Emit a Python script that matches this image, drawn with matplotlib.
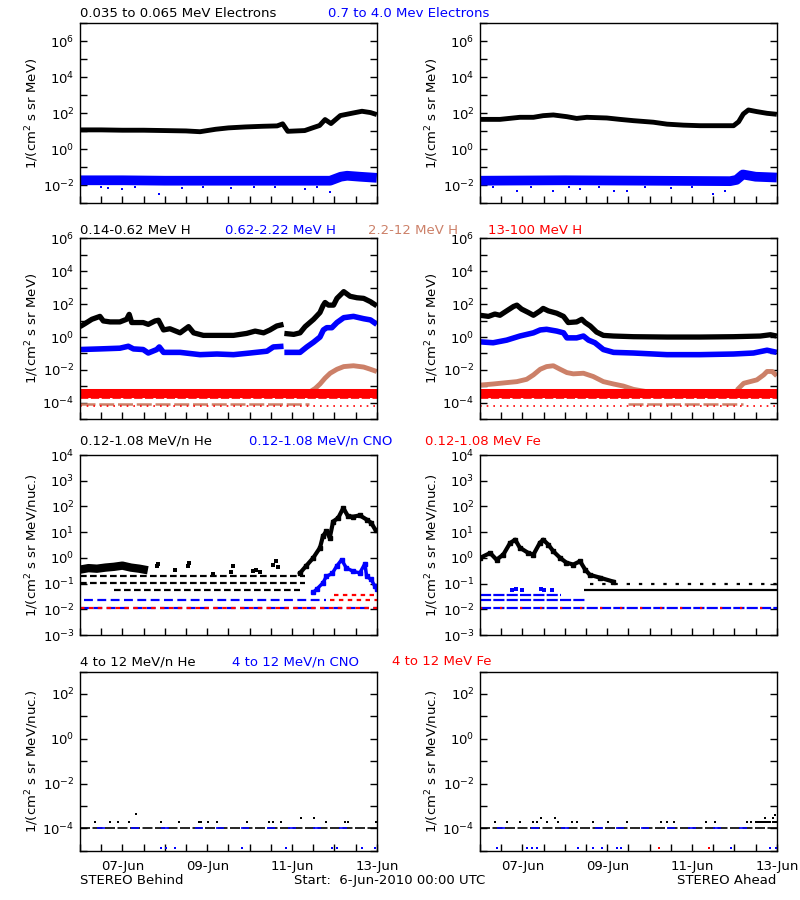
import numpy as np
import matplotlib
matplotlib.use('Agg')
import matplotlib.pyplot as plt

plt.rcParams['font.family'] = 'DejaVu Sans'
plt.rcParams['font.size'] = 9
plt.rcParams['mathtext.fontset'] = 'dejavusans'

BLUE = '#0000ff'
RED = '#ff0000'
SIENNA = '#cc8068'
nan = np.nan

# time axis: days since 6-Jun-2010 00:00
day_ticks = [1, 3, 5, 7]
day_labels = ['07-Jun', '09-Jun', '11-Jun', '13-Jun']

# ---------------- electrons ----------------
eb_lo_t = [0, 0.5, 1.0, 1.5, 2.0, 2.5, 2.83, 3.2, 3.5, 3.9, 4.3, 4.65, 4.78, 4.9, 5.3, 5.5, 5.65, 5.78, 5.92, 6.14, 6.45, 6.65, 6.85, 7.0]
eb_lo = [12, 12, 11.5, 11.5, 11, 10.5, 9.5, 13, 15.5, 17.5, 19, 20, 26, 10, 11, 16, 21, 45, 27, 75, 105, 130, 110, 85]
eb_hi_t = [0, 1, 2, 3, 4, 5, 5.9, 6.15, 6.3, 6.6, 7.0]
eb_hi = [0.019, 0.019, 0.018, 0.018, 0.018, 0.018, 0.018, 0.03, 0.034, 0.03, 0.026]
eb_hi_out_t = [0.5, 0.67, 0.98, 1.3, 1.87, 2.4, 2.9, 3.55, 4.1, 4.6, 5.3, 5.6, 5.9]
eb_hi_out = [0.008, 0.007, 0.0065, 0.008, 0.0032, 0.007, 0.008, 0.0075, 0.008, 0.0078, 0.0065, 0.008, 0.0045]

ea_lo_t = [0, 0.47, 0.94, 1.26, 1.49, 1.73, 2.05, 2.28, 2.52, 2.99, 3.3, 3.62, 4.09, 4.41, 4.8, 5.19, 5.66, 5.98, 6.1, 6.21, 6.33, 6.53, 6.77, 7.0]
ea_lo = [46, 46, 60, 60, 74, 81, 65, 52, 60, 55, 46, 39, 32, 25, 22, 20.5, 20.5, 20.5, 34, 92, 153, 124, 100, 88]
ea_hi_t = [0, 2, 4, 5.9, 6.05, 6.2, 6.5, 7.0]
ea_hi = [0.018, 0.019, 0.018, 0.017, 0.02, 0.04, 0.03, 0.027]
ea_hi_out_t = [0.3, 0.87, 1.2, 1.73, 2.1, 2.36, 2.8, 3.15, 3.46, 3.9, 4.5, 5.0, 5.5, 5.78]
ea_hi_out = [0.008, 0.005, 0.008, 0.0046, 0.008, 0.006, 0.008, 0.005, 0.0046, 0.008, 0.0075, 0.008, 0.0033, 0.0046]

# ---------------- protons ----------------
hb1_t = [0, 0.12, 0.28, 0.47, 0.55, 0.71, 0.94, 1.10, 1.16, 1.22, 1.49, 1.61, 1.77, 1.85, 1.97, 2.12, 2.36, 2.56, 2.68, 2.91, 3.23, 3.62, 3.93, 4.13, 4.33, 4.48, 4.64, 4.80, 4.81,
         4.82, 5.04, 5.19, 5.31, 5.51, 5.66, 5.73, 5.78, 5.86, 5.98, 6.06, 6.22, 6.37, 6.53, 6.69, 6.85, 7.0]
hb1 = [4.3, 6.6, 12, 18, 9.5, 8.3, 8.3, 12, 24, 7.6, 7.6, 5.9, 9.5, 10.5, 2.7, 3.2, 1.8, 4.3, 1.8, 1.26, 1.26, 1.26, 1.66, 2.3, 1.8, 2.7, 4.7, 5.9, nan,
       1.66, 1.45, 1.8, 4.3, 12, 31, 79, 126, 87, 87, 224, 575, 300, 245, 224, 141, 79]
hb2_t = [0, 0.47, 0.94, 1.14, 1.26, 1.49, 1.61, 1.81, 1.87, 1.97, 2.36, 2.83, 3.23, 3.62, 4.01, 4.41, 4.56, 4.80, 4.81,
         4.82, 5.19, 5.35, 5.51, 5.66, 5.74, 5.82, 5.94, 6.06, 6.22, 6.45, 6.69, 6.85, 7.0]
hb2 = [0.174, 0.19, 0.21, 0.275, 0.19, 0.174, 0.107, 0.174, 0.25, 0.117, 0.117, 0.085, 0.093, 0.085, 0.107, 0.138, 0.25, 0.275, nan,
       0.117, 0.117, 0.25, 0.49, 1.0, 2.7, 3.7, 3.7, 7.6, 15, 18, 13, 11, 5.9]
hb3_t = [5.43, 5.55, 5.66, 5.78, 5.9, 6.06, 6.22, 6.45, 6.69, 6.85, 7.0]
hb3 = [4.8e-4, 7.6e-4, 1.4e-3, 3.2e-3, 6.3e-3, 0.011, 0.016, 0.018, 0.015, 0.011, 0.008]
hb4_t = [0, 7.0]
hb4 = [3.8e-4, 3.8e-4]

ha1_t = [0, 0.2, 0.35, 0.47, 0.63, 0.79, 0.87, 0.98, 1.14, 1.26, 1.42, 1.49, 1.61, 1.81, 1.97, 2.08, 2.28, 2.4, 2.48, 2.6, 2.75, 2.91, 3.15, 3.62, 4.41, 5.19, 5.98, 6.61, 6.85, 7.0]
ha1 = [21, 18, 25, 21, 39, 72, 87, 50, 31, 21, 39, 55, 39, 28, 18, 7.6, 8.3, 12, 7.6, 4.7, 2.0, 1.26, 1.15, 1.05, 1.0, 1.0, 1.05, 1.15, 1.38, 1.15]
ha2_t = [0, 0.31, 0.63, 0.94, 1.26, 1.42, 1.57, 1.81, 1.97, 2.05, 2.28, 2.44, 2.56, 2.71, 2.91, 3.15, 3.62, 4.41, 5.19, 5.98, 6.45, 6.77, 7.0]
ha2 = [0.51, 0.45, 0.65, 1.15, 1.8, 2.7, 2.95, 2.3, 1.8, 0.89, 0.89, 1.15, 0.65, 0.45, 0.174, 0.117, 0.107, 0.085, 0.085, 0.093, 0.107, 0.158, 0.117]
ha3_t = [0, 0.31, 0.63, 0.87, 1.10, 1.26, 1.42, 1.57, 1.73, 1.89, 2.05, 2.2, 2.44, 2.67, 2.91, 3.15, 3.38, 3.62, 3.93, 3.94,
         6.06, 6.22, 6.37, 6.53, 6.69, 6.77, 6.89, 7.0]
ha3 = [1.2e-3, 1.4e-3, 1.7e-3, 1.95e-3, 2.7e-3, 5e-3, 0.011, 0.016, 0.018, 0.011, 6.9e-3, 5.8e-3, 6.3e-3, 4e-3, 1.95e-3, 1.4e-3, 1.05e-3, 6.6e-4, 4.8e-4, nan,
       6e-4, 1.55e-3, 1.95e-3, 2.5e-3, 5e-3, 8.1e-3, 8.1e-3, 4.4e-3]
ha4_t = [0, 7.0]
ha4 = [3.8e-4, 3.8e-4]

# one-count levels of the proton channels
h_red_lvl = [1.9e-4, 6.5e-5]
h_sienna_lvl = 9e-5
hb_sienna_span = [0, 5.4]
ha_sienna_span = [3.5, 6.2]

# ---------------- 0.12-1.08 MeV/n ions ----------------
heb_quiet_t = [0, 0.2, 0.4, 0.6, 0.8, 1.0, 1.2, 1.4, 1.6]
heb_quiet = [0.35, 0.4, 0.38, 0.42, 0.45, 0.5, 0.42, 0.38, 0.33]
heb_blob_t = [1.81, 1.85, 2.24, 2.55, 2.58, 3.14, 3.57, 3.6, 4.08, 4.16, 4.24, 4.56, 4.62, 4.67]
heb_blob = [0.47, 0.6, 0.33, 0.47, 0.65, 0.24, 0.28, 0.5, 0.3, 0.35, 0.28, 0.55, 0.75, 0.45]
heb_rise_t = [5.19, 5.34, 5.5, 5.66, 5.73, 5.81, 5.89, 5.97, 6.09, 6.21, 6.32, 6.44, 6.6, 6.76, 6.87, 6.97]
heb_rise = [0.26, 0.5, 1.0, 2.5, 7, 11, 6, 26, 36, 87, 42, 40, 45, 31, 23, 12]
cnob_t = [5.5, 5.58, 5.73, 5.81, 5.95, 6.05, 6.17, 6.28, 6.44, 6.6, 6.72, 6.76, 6.87, 6.95, 7.0]
cnob = [0.046, 0.06, 0.107, 0.19, 0.25, 0.47, 0.85, 0.41, 0.3, 0.26, 0.6, 0.19, 0.145, 0.08, 0.06]

hea_t = [0, 0.24, 0.39, 0.55, 0.71, 0.83, 0.94, 1.14, 1.26, 1.41, 1.49, 1.61, 1.73, 1.89, 2.04, 2.2, 2.36, 2.48, 2.59, 2.83, 3.14]
hea = [1.0, 1.55, 0.85, 1.35, 3.8, 5.1, 2.5, 1.55, 1.35, 3.8, 5.1, 3.3, 1.8, 1.0, 0.65, 0.55, 0.74, 0.35, 0.22, 0.17, 0.12]
cnoa_blob_t = [0.75, 0.85, 1.0, 1.45, 1.5, 1.7]
cnoa_blob = [0.055, 0.06, 0.055, 0.06, 0.055, 0.055]

# count levels: (level, start day, end day)
ionb_black_lvl = [(0.2, 0.0, 5.3), (0.107, 0.0, 5.3), (0.054, 0.8, 5.2)]
ionb_blue_lvl = [(0.024, 0.1, 5.8), (0.011, 0.0, 7.0)]
ionb_red_lvl = [(0.011, 0.0, 7.0), (0.024, 5.9, 7.0), (0.037, 6.0, 7.0)]
iona_black_lvl = [(0.055, 2.45, 7.0), (0.1, 2.6, 7.0)]
iona_blue_lvl = [(0.037, 0.0, 1.9), (0.024, 0.0, 2.5), (0.011, 0.0, 7.0)]
iona_red_lvl = [(0.011, 0.0, 7.0)]

# ---------------- 4-12 MeV/n ions ----------------
hi_lvl = 1e-4
hib_dot_t = [0.35, 0.71, 0.9, 1.15, 1.33, 1.91, 2.33, 2.8, 2.85, 3.01, 3.24, 3.93, 4.45, 4.56, 4.74, 5.21, 5.52, 5.8, 6.25, 6.31, 6.97]
hib_dot = [2e-4, 2e-4, 2e-4, 2e-4, 4.3e-4, 2e-4, 2e-4, 2e-4, 2e-4, 2e-4, 2e-4, 2e-4, 2e-4, 2e-4, 2e-4, 3e-4, 3e-4, 2e-4, 2e-4, 2e-4, 2e-4]
hib_blue_low_t = [1.92, 2.04, 2.24, 3.83, 4.85, 5.95, 6.05, 6.66, 6.95]
hib_blue_low = [1.3e-5] * 9
hia_dot_t = [0.35, 0.63, 0.94, 1.26, 1.34, 1.45, 1.57, 1.77, 1.85, 2.16, 2.28, 2.67, 3.02, 3.46, 4.27, 4.4, 4.57, 5.33, 5.54,
             6.3, 6.4, 6.5, 6.55, 6.6, 6.65, 6.7, 6.75, 6.8, 6.85, 6.9, 6.95, 7.0, 6.72, 6.9, 6.95]
hia_dot = [2e-4, 2e-4, 2e-4, 2e-4, 2e-4, 3e-4, 2e-4, 3e-4, 2e-4, 2e-4, 2e-4, 2e-4, 2e-4, 2e-4, 2e-4, 2e-4, 2e-4, 2e-4, 2e-4,
           2e-4, 2e-4, 2e-4, 2e-4, 2e-4, 2e-4, 2e-4, 2e-4, 2e-4, 2e-4, 2e-4, 2e-4, 2e-4, 3e-4, 3e-4, 4e-4]
hia_blue_low_t = [0.39, 1.1, 1.22, 1.34, 2.32, 2.66, 2.87, 3.24, 3.32, 5.92, 6.83, 6.98]
hia_blue_low = [1.3e-5] * 12
hia_red_low_t = [4.22, 5.4]
hia_red_low = [1.3e-5, 1.3e-5]
hi_blue_seg_t = [0.5, 1.3, 2.0, 2.8, 3.3, 3.9, 4.5, 5.0, 5.6, 6.2]


def setup(ax, ylo, yhi, every, ylabel, bottom):
    ax.set_xlim(0, 7)
    ax.set_yscale('log')
    ax.set_ylim(10.0 ** ylo, 10.0 ** yhi)
    exps = np.arange(ylo, yhi + 1)
    ax.set_yticks(10.0 ** exps)
    ax.set_yticklabels([r'$10^{%d}$' % e if e % every == 0 else '' for e in exps])
    ax.yaxis.set_minor_locator(plt.NullLocator())
    xt = np.arange(0, 7.01, 0.5)
    ax.set_xticks(xt)
    if bottom:
        lab = dict(zip(day_ticks, day_labels))
        ax.set_xticklabels([lab.get(v, '') for v in xt])
    else:
        ax.set_xticklabels([''] * len(xt))
    ax.tick_params(axis='both', which='major', direction='in', length=5, width=1,
                   top=False, right=True, labelsize=9.5, pad=4)
    ax.tick_params(axis='x', pad=7)
    ax.set_ylabel(ylabel, fontsize=9.5)
    ax.yaxis.set_label_coords(-0.132, 0.5)
    for s in ax.spines.values():
        s.set_linewidth(1)


def levels(ax, lv, color, dash):
    for y, a, b in lv:
        ax.plot([a, b], [y, y], color=color, lw=1.6, dashes=dash, solid_capstyle='butt')


fig = plt.figure(figsize=(8, 9), dpi=100)
W = 0.371
xs = [0.1, 0.6]
rows = [(0.7741, 0.2), (0.5341, 0.2011), (0.2944, 0.2), (0.0548, 0.199)]
axs = [[fig.add_axes([x, b, W, h]) for x in xs] for b, h in rows]

lab1 = r'1/(cm$^2$ s sr MeV)'
lab2 = r'1/(cm$^2$ s sr MeV/nuc.)'

# row 1: electrons
for ax, lt, lv, ht, hv, ot, ov in [(axs[0][0], eb_lo_t, eb_lo, eb_hi_t, eb_hi, eb_hi_out_t, eb_hi_out),
                                  (axs[0][1], ea_lo_t, ea_lo, ea_hi_t, ea_hi, ea_hi_out_t, ea_hi_out)]:
    setup(ax, -3, 7, 2, lab1, False)
    ax.plot(ht, hv, color=BLUE, lw=7, solid_capstyle='butt')
    ax.plot(ot, ov, 's', color=BLUE, ms=2, mew=0)
    ax.plot(lt, lv, color='black', lw=3.5, solid_capstyle='butt')

# row 2: protons
for ax, d, span in [(axs[1][0], (hb1_t, hb1, hb2_t, hb2, hb3_t, hb3, hb4_t, hb4), hb_sienna_span),
                    (axs[1][1], (ha1_t, ha1, ha2_t, ha2, ha3_t, ha3, ha4_t, ha4), ha_sienna_span)]:
    setup(ax, -5, 6, 2, lab1, False)
    ax.plot(span, [h_sienna_lvl] * 2, color=SIENNA, lw=1.8, dashes=(6, 1.5))
    ax.plot([0, 7], [h_red_lvl[0]] * 2, color=RED, lw=1.2, dashes=(5, 1.5))
    ax.plot([0, 7], [h_red_lvl[1]] * 2, color=RED, lw=1.2, dashes=(1, 3))
    ax.plot(d[4], d[5], color=SIENNA, lw=3.5, solid_capstyle='butt')
    ax.plot(d[6], d[7], color=RED, lw=6.5, solid_capstyle='butt')
    ax.plot(d[2], d[3], color=BLUE, lw=4, solid_capstyle='butt')
    ax.plot(d[0], d[1], color='black', lw=3.8, solid_capstyle='butt')

# row 3: low energy ions
ax = axs[2][0]
setup(ax, -3, 4, 1, lab2, False)
levels(ax, ionb_black_lvl, 'black', (3, 1.5))
levels(ax, ionb_blue_lvl, BLUE, (4, 2))
levels(ax, ionb_red_lvl, RED, (2, 2))
ax.plot(heb_quiet_t, heb_quiet, color='black', lw=6, solid_capstyle='butt')
ax.plot(heb_blob_t, heb_blob, 's', color='black', ms=2.8, mew=0)
ax.plot(heb_rise_t, heb_rise, color='black', lw=3, marker='s', ms=2.5)
ax.plot(cnob_t, cnob, color=BLUE, lw=2.5, marker='s', ms=2.5)

ax = axs[2][1]
setup(ax, -3, 4, 1, lab2, False)
levels(ax, iona_black_lvl[:1], 'black', (1, 0))
levels(ax, iona_black_lvl[1:], 'black', (1.5, 4))
levels(ax, iona_blue_lvl, BLUE, (5, 1))
levels(ax, iona_red_lvl, RED, (1, 8))
ax.plot(cnoa_blob_t, cnoa_blob, 's', color=BLUE, ms=2.5, mew=0)
ax.plot(hea_t, hea, color='black', lw=3, marker='s', ms=2.5)

# row 4: high energy ions
for ax, dt, dv, bt, bv in [(axs[3][0], hib_dot_t, hib_dot, hib_blue_low_t, hib_blue_low),
                           (axs[3][1], hia_dot_t, hia_dot, hia_blue_low_t, hia_blue_low)]:
    setup(ax, -5, 3, 2, lab2, True)
    ax.plot([0, 7], [hi_lvl] * 2, color='black', lw=1.2, dashes=(6, 1.5))
    ax.plot(hi_blue_seg_t, [hi_lvl] * len(hi_blue_seg_t), '_', color=BLUE, ms=6, mew=1.2)
    ax.plot(dt, dv, 's', color='black', ms=1.8, mew=0)
    ax.plot(bt, bv, 's', color=BLUE, ms=1.8, mew=0, clip_on=False)
axs[3][1].plot(hia_red_low_t, hia_red_low, 's', color=RED, ms=1.8, mew=0)

# channel titles
fs = 9.5
titles = [
    (0.985, [(0.1, '0.035 to 0.065 MeV Electrons', 'black'), (0.41, '0.7 to 4.0 Mev Electrons', BLUE)]),
    (0.7444, [(0.1, '0.14-0.62 MeV H', 'black'), (0.281, '0.62-2.22 MeV H', BLUE),
              (0.46, '2.2-12 MeV H', SIENNA), (0.61, '13-100 MeV H', RED)]),
    (0.5098, [(0.1, '0.12-1.08 MeV/n He', 'black'), (0.311, '0.12-1.08 MeV/n CNO', BLUE),
              (0.531, '0.12-1.08 MeV Fe', RED)]),
    (0.2648, [(0.1, '4 to 12 MeV/n He', 'black'), (0.29, '4 to 12 MeV/n CNO', BLUE),
              (0.49, '4 to 12 MeV Fe', RED)]),
]
for y, items in titles:
    for x, s, c in items:
        fig.text(x, y, s, color=c, fontsize=fs, ha='left', va='center')

fig.text(0.1, 0.0214, 'STEREO Behind', fontsize=fs, va='center')
fig.text(0.3675, 0.0214, 'Start:  6-Jun-2010 00:00 UTC', fontsize=fs, va='center')
fig.text(0.97, 0.0214, 'STEREO Ahead', fontsize=fs, va='center', ha='right')

fig.savefig('out.png', dpi=100)
